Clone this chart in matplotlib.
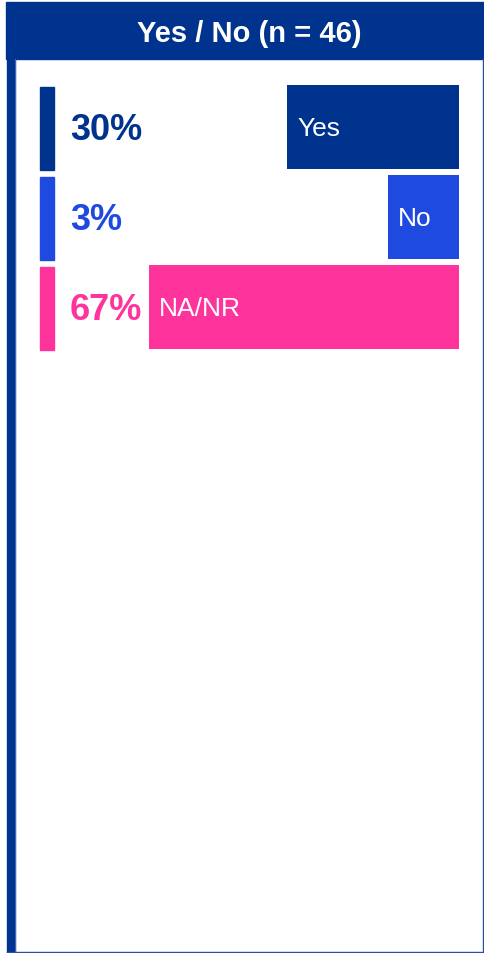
import matplotlib.pyplot as plt
from matplotlib.patches import Rectangle
import matplotlib.transforms as mtransforms

plt.rcParams['font.family'] = ['Liberation Sans', 'DejaVu Sans']

title = 'Yes / No (n = 46)'
labels = ['Yes', 'No', 'NA/NR']
values = [30, 3, 67]
colors = ['#00338D', '#1F4AE0', '#FE349C']

W, H = 485, 954
fig = plt.figure(figsize=(W / 100, H / 100), dpi=100)
fig.patch.set_facecolor('white')

# frame: header band, thick left border, thin right/bottom border
fig.patches.append(Rectangle((6 / W, 1 - 60 / H), 478 / W, 57 / H,
                             transform=fig.transFigure, color='#00338D', zorder=0))
fig.patches.append(Rectangle((7 / W, 1 / H), 8 / W, (H - 61) / H,
                             transform=fig.transFigure, color='#00338D', zorder=0))
fig.lines.append(plt.Line2D([15.5 / W, 15.5 / W], [1 / H, 1 - 60 / H], transform=fig.transFigure,
                            color='#3D64B8', lw=0.8))
fig.lines.append(plt.Line2D([483.5 / W, 483.5 / W], [1 / H, 1 - 60 / H], transform=fig.transFigure,
                            color='#2A4FA0', lw=1))
fig.lines.append(plt.Line2D([7 / W, 484 / W], [1.2 / H, 1.2 / H], transform=fig.transFigure,
                            color='#2A4FA0', lw=1))
fig.text(249 / W, 1 - 34 / H, title, color='white', fontsize=21, fontweight='bold',
         ha='center', va='center')

# plot area
ax_l, ax_r = 40, 458.5
ax_t, ax_b = 83, 353
ax = fig.add_axes([ax_l / W, 1 - ax_b / H, (ax_r - ax_l) / W, (ax_b - ax_t) / H])
ax.axis('off')

pad = 16  # extra room so short bars still hold their label
scale = 3.726
xmax = (ax_r - ax_l) / scale
ax.set_xlim(xmax, 0)
ax.set_ylim(len(labels) - 0.5, -0.5)

lengths = [v + pad for v in values]
bars = ax.barh(range(len(labels)), lengths, height=0.93, color=colors)

blend = mtransforms.blended_transform_factory(ax.transAxes, ax.transData)
pct_tr = mtransforms.offset_copy(blend, fig=fig, x=0, y=-3, units='dots')
off = mtransforms.offset_copy(ax.transData, fig=fig, x=10, y=-1, units='dots')
for i, (lab, v, c, ln) in enumerate(zip(labels, values, colors, lengths)):
    ax.add_patch(Rectangle((0, i - 0.45), 14 / (ax_r - ax_l), 0.93, transform=blend,
                           color=c, clip_on=False))
    ax.text(30 / (ax_r - ax_l), i, f'{v}%', transform=pct_tr, color=c, fontsize=26,
            fontweight='bold', ha='left', va='center')
    ax.text(ln, i, lab, transform=off, color='white', fontsize=19,
            ha='left', va='center')

fig.savefig('out.png', dpi=100)
